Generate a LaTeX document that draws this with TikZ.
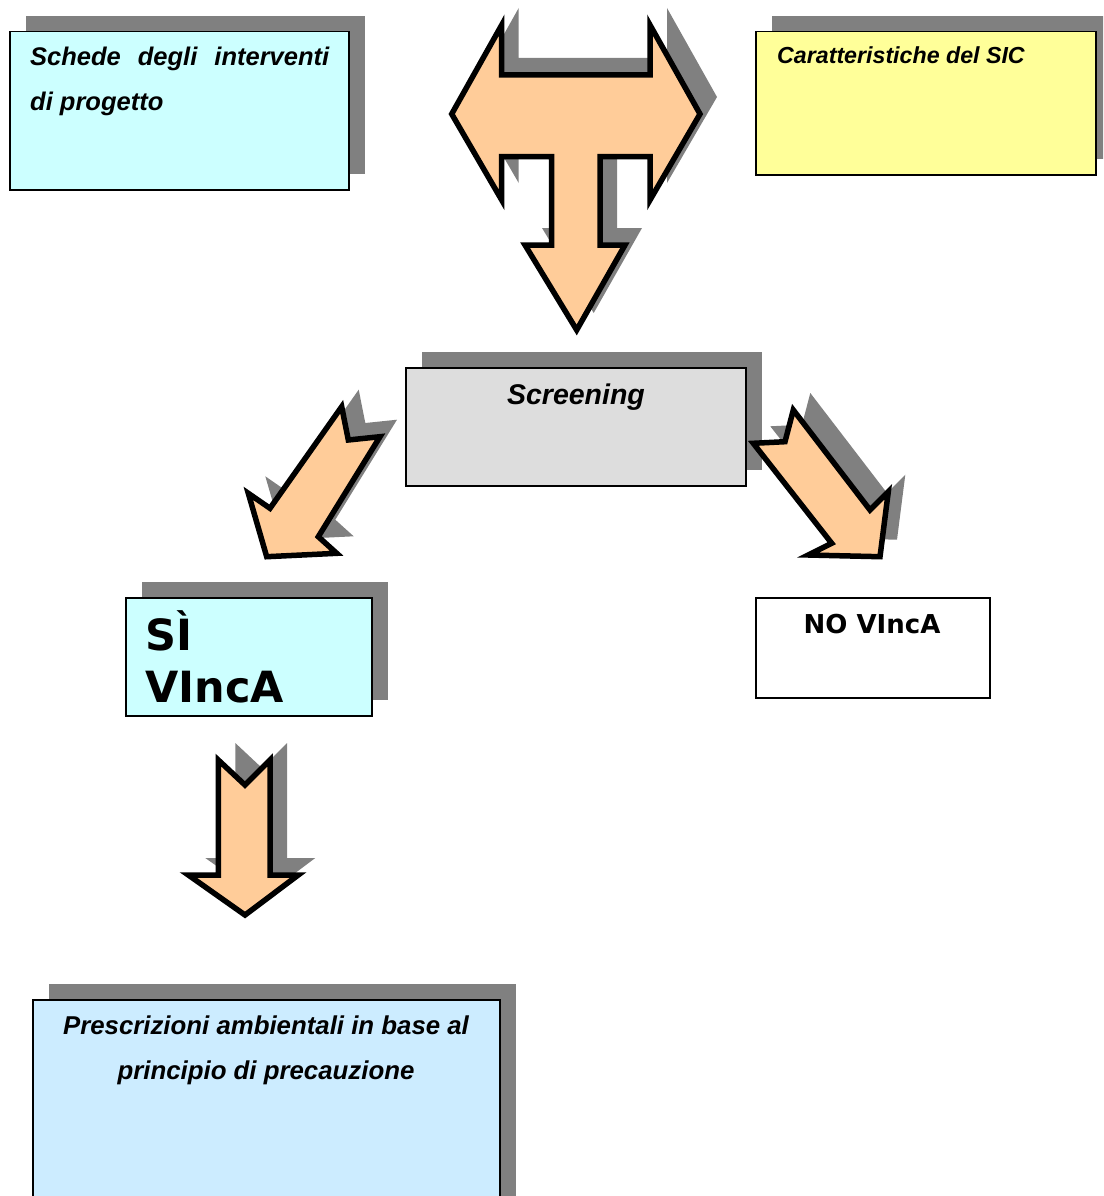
\documentclass[tikz,border=0pt]{standalone}
\usepackage{fontspec}
\setmainfont{Liberation Sans}
\newfontfamily\verd{DejaVu Sans}
\usetikzlibrary{shadows}
\definecolor{cyanbox}{HTML}{CCFFFF}
\definecolor{yellowbox}{HTML}{FFFF99}
\definecolor{graybox}{HTML}{DDDDDD}
\definecolor{bluebox}{HTML}{CCECFF}
\definecolor{orangearrow}{HTML}{FFCC99}
\definecolor{shadowgray}{HTML}{808080}
\tikzset{
  boxshadow/.style={drop shadow={shadow xshift=16pt, shadow yshift=16pt, opacity=1, fill=shadowgray}},
  arrowshadow/.style={drop shadow={shadow xshift=17pt, shadow yshift=17pt, opacity=1, fill=shadowgray}},
  panel/.style={draw=black, line width=1.5pt, inner sep=0pt, anchor=north west},
  blockarrow/.style={draw=black, line width=5.5pt, line join=miter, fill=orangearrow, arrowshadow},
  lbl/.style={inner sep=0pt, anchor=base west},
}
\begin{document}
\begin{tikzpicture}[x=1pt,y=-1pt]
\useasboundingbox (0,0) rectangle (1103,1196);
\clip (0,0) rectangle (1103,1196);

% boxes
\node[panel, boxshadow, fill=cyanbox, minimum width=339pt, minimum height=158pt] (schede) at (9,31) {};
\node[panel, boxshadow, fill=yellowbox, minimum width=340pt, minimum height=143pt] (sic) at (755,31) {};
\node[panel, boxshadow, fill=graybox, minimum width=340pt, minimum height=118pt] (screening) at (405,367) {};
\node[panel, boxshadow, fill=cyanbox, minimum width=246pt, minimum height=118pt] (si) at (125,597) {};
\node[panel, fill=white, minimum width=234pt, minimum height=100pt] (no) at (755,597) {};
\node[panel, boxshadow, fill=bluebox, minimum width=467pt, minimum height=230pt] (presc) at (32,999) {};

% texts
\node[lbl] (schede1) at (30,66) {\fontsize{25.5}{30}\selectfont\bfseries\itshape\makebox[299pt][s]{Schede degli interventi}};
\node[lbl] (schede2) at (30,111) {\fontsize{25.5}{30}\selectfont\bfseries\itshape di progetto};
\node[lbl] (sictxt) at (777,64) {\fontsize{23.2}{28}\selectfont\bfseries\itshape Caratteristiche del SIC};
\node[inner sep=0pt, anchor=base] (scrtxt) at (576,404) {\fontsize{28.5}{32}\selectfont\bfseries\itshape Screening};
\node[lbl] (si1) at (145,650) {\fontsize{43}{48}\selectfont\verd\bfseries SÌ};
\node[lbl] (si2) at (145,702) {\fontsize{43}{48}\selectfont\verd\bfseries VIncA};
\node[inner sep=0pt, anchor=base] (notxt) at (872,633) {\fontsize{26}{28}\selectfont\verd\bfseries NO VIncA};
\node[inner sep=0pt, anchor=base] (presc1) at (266,1034) {\fontsize{25.8}{30}\selectfont\bfseries\itshape Prescrizioni ambientali in base al};
\node[inner sep=0pt, anchor=base] (presc2) at (266,1079) {\fontsize{25.8}{30}\selectfont\bfseries\itshape principio di precauzione};

% T-shaped block arrow (top)
\draw[blockarrow] (451.7,114) -- (501.7,25) -- (501.7,75) -- (650,75) -- (650,25)
  -- (700,114) -- (650,200) -- (650,156.7) -- (600,156.7) -- (600,245) -- (625,245)
  -- (576.7,330) -- (525,245) -- (551.7,245) -- (551.7,156.7) -- (501.7,156.7)
  -- (501.7,200) -- cycle;

% arrow screening -> SI
\draw[blockarrow] (341.7,406.7) -- (348.3,440) -- (380,436.7) -- (318.3,536.7)
  -- (336.7,553.3) -- (266.7,556.7) -- (248.3,493.3) -- (270,508.3) -- cycle;

% arrow screening -> NO
\draw[blockarrow] (753.3,443.3) -- (785,441.7) -- (793.3,410) -- (870,510)
  -- (888.3,491.7) -- (880,556.7) -- (808.3,555) -- (831.7,543.3) -- cycle;

% arrow SI -> prescrizioni
\draw[blockarrow] (218.3,760) -- (245,785) -- (270,760) -- (270,875) -- (298.3,875)
  -- (245,915) -- (188.3,875) -- (218.3,875) -- cycle;
\end{tikzpicture}
\end{document}
